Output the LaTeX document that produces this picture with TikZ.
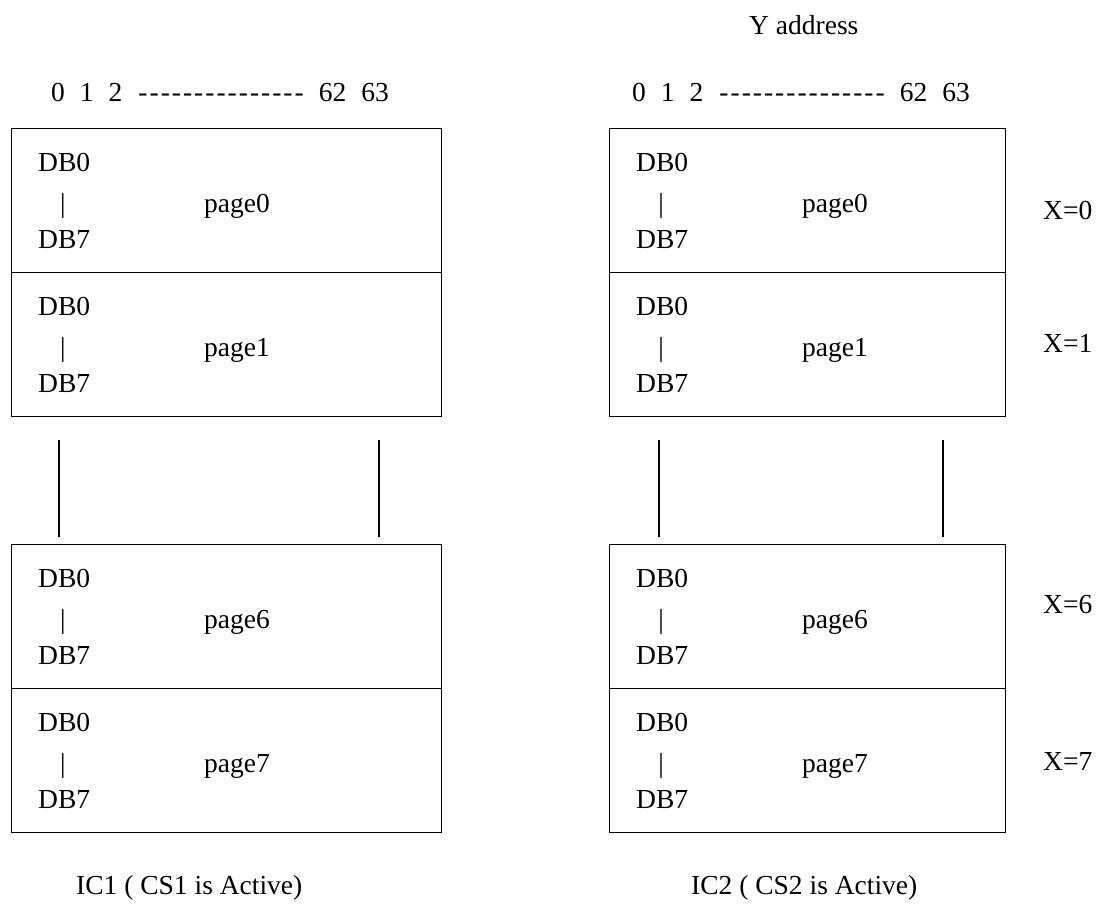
\documentclass[tikz,border=0pt]{standalone}
\usepackage{fontspec}
\setmainfont{Liberation Serif}
\tikzset{
  lbl/.style={anchor=base west,inner sep=0pt,font=\fontsize{27.5}{30}\selectfont},
  pagebox/.style={draw,line width=1.2pt,inner sep=0pt,anchor=north west,minimum height=144pt},
}
% one page of display RAM: box, data bits, page name
\newcommand{\memrow}[5]{%
  \node[pagebox,minimum width=#4pt] (#1) at (#2,#3) {};
  \node[lbl] (#1-db0) at (#2+27,#3+43) {DB0};
  \node[lbl,anchor=base] (#1-bar) at (#2+52,#3+84) {|};
  \node[lbl] (#1-pg) at (#2+193,#3+84) {page#5};
  \node[lbl] (#1-db7) at (#2+27,#3+120) {DB7};
}
\newcommand{\dashline}{\foreach \k in {1,...,15}{-\kern2pt}}
\newcommand{\yaddr}{0\hspace{15pt}1\hspace{15pt}2\hspace{16pt}\dashline\hspace{13pt}62\hspace{15pt}63}
\begin{document}
\begin{tikzpicture}[x=1pt,y=-1pt]
\useasboundingbox (0,0) rectangle (1098,907);
\node[lbl] (yaddr) at (749,35) {Y address};
\node[lbl] (colL) at (51,102) {\yaddr};
\node[lbl] (colR) at (632,102) {\yaddr};
% IC1
\memrow{L0}{11}{128}{430}{0}
\memrow{L1}{11}{272}{430}{1}
\memrow{L6}{11}{544}{430}{6}
\memrow{L7}{11}{688}{430}{7}
% IC2
\memrow{R0}{609}{128}{396}{0}
\memrow{R1}{609}{272}{396}{1}
\memrow{R6}{609}{544}{396}{6}
\memrow{R7}{609}{688}{396}{7}
% pages 2..5 left out
\draw[line width=1.2pt] (59,440) -- (59,537);
\draw[line width=1.2pt] (379,440) -- (379,537);
\draw[line width=1.2pt] (659,440) -- (659,537);
\draw[line width=1.2pt] (943,440) -- (943,537);
\node[lbl] (x0) at (1043,219) {X=0};
\node[lbl] (x1) at (1043,352) {X=1};
\node[lbl] (x6) at (1043,613) {X=6};
\node[lbl] (x7) at (1043,770) {X=7};
\node[lbl] (ic1) at (76,894) {IC1 ( CS1 is Active)};
\node[lbl] (ic2) at (691,894) {IC2 ( CS2 is Active)};
\end{tikzpicture}
\end{document}
